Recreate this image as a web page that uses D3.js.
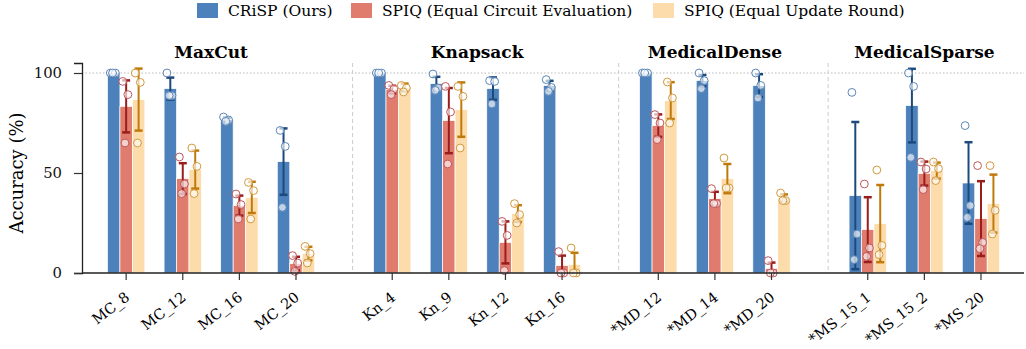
<!DOCTYPE html>
<html>
<head>
<meta charset="utf-8">
<script src="https://cdn.jsdelivr.net/npm/d3@7"></script>
<style>
  body { margin: 0; background: #fff; }
  svg { display: block; font-family: "DejaVu Serif", serif; }
</style>
</head>
<body>
<script>
// tasks on the x axis, in plotting order
var categories = ["MC_8", "MC_12", "MC_16", "MC_20",
                  "Kn_4", "Kn_9", "Kn_12", "Kn_16",
                  "*MD_12", "*MD_14", "*MD_20",
                  "*MS_15_1", "*MS_15_2", "*MS_20"];
var groupNames = ["MaxCut", "Knapsack", "MedicalDense", "MedicalSparse"];
var groupSizes = [4, 4, 3, 3];
var seriesNames = ["CRiSP (Ours)", "SPIQ (Equal Circuit Evaluation)", "SPIQ (Equal Update Round)"];

// mean accuracy (%)
var crispMean = [100, 92.2, 76.7, 55.7, 100, 94.7, 92.2, 93.7, 100, 96.2, 93.7, 38.7, 83.7, 45.0];
var evalMean  = [83.3, 47.2, 33.7, 4.7, 91.7, 76.2, 15.3, 3.7, 73.7, 37.2, 2.2, 21.7, 49.7, 27.2];
var roundMean = [86.7, 51.7, 37.8, 9.7, 92.8, 81.7, 29.7, 4.2, 86.2, 47.2, 37.5, 24.7, 51.2, 34.7];

// std (error bar half length)
var crispErr = [0, 5.5, 1.0, 16.6, 0, 3.4, 5.6, 2.4, 0, 2.8, 5.7, 36.8, 18.4, 20.4];
var evalErr  = [13.0, 7.7, 5.0, 3.4, 1.9, 16.3, 10.5, 5.0, 5.6, 3.4, 3.0, 16.2, 6.0, 18.7];
var roundErr = [15.5, 9.5, 7.8, 3.4, 1.9, 13.6, 4.2, 5.9, 9.2, 7.3, 1.8, 19.3, 4.0, 14.5];

// individual runs
var crispRuns = [[100, 100, 100], [100, 88.7, 88.7], [78, 76.5, 75.8], [71.3, 63.3, 32.8],
                 [100, 100, 100], [99.5, 92.5, 91.3], [96.2, 95.8, 84.5], [96.7, 92.8, 90.8],
                 [100, 100, 100], [100, 96.2, 92.2], [100, 93.8, 87.5],
                 [90.3, 19.5, 6.7], [100, 93.3, 57.8], [73.7, 33.7, 27.8]];
var evalRuns  = [[95.8, 89.2, 65], [58, 44.5, 39.7], [39.5, 34.2, 27], [8.7, 5, 0.8],
                 [93.8, 92, 89.2], [93.3, 80.5, 54.5], [25.8, 18.8, 1.2], [10.7, 0, 0],
                 [79.2, 75, 66.7], [42.2, 34.7, 34.7], [6.2, 0, 0],
                 [44.5, 12.5, 8.3], [55.5, 52, 41.7], [53.7, 15.3, 12.2]];
var roundRuns = [[100, 95.3, 65], [62.5, 53.3, 39.7], [45.3, 41.2, 27], [13.3, 9.7, 5],
                 [93.8, 92.5, 90.5], [93.3, 88.3, 62.5], [34.7, 29.2, 25], [12.5, 0, 0],
                 [95.5, 87.5, 75], [57.5, 42.5, 42.5], [40, 36.2, 36.2],
                 [51.5, 13.8, 9.2], [55.5, 52.2, 46.2], [53.7, 31.3, 19.5]];

var yTicks = [0, 50, 100];

var barColors = ["#4d81bc", "#e07c6e", "#fddcab"];
var errColors = ["#1c4a7c", "#9a1d1d", "#c07a0c"];
var dotColors = ["#5b86b8", "#c0565a", "#d19a3c"];

var width = 1026, height = 349;
var svg = d3.select("body").append("svg")
    .attr("width", width)
    .attr("height", height);

// x position of each task: groups are separated by an extra gap
var gap = 0.7;
var xpos = [];
var pos = 0;
groupSizes.forEach(function (n) {
    for (var k = 0; k < n; k++) { xpos.push(pos); pos += 1; }
    pos += gap;
});

var x = d3.scaleLinear().domain([-0.78, 15.86]).range([82, 1024]);
var y = d3.scaleLinear().domain([0, 105]).range([273, 63]);

var bw = 0.22;
var offs = [-bw, 0, bw];
var jitter = [-0.06, 0.03, -0.02];

svg.append("defs").append("clipPath").attr("id", "plot")
    .append("rect").attr("x", 82).attr("y", 55).attr("width", 944).attr("height", 218);

// reference line at 100
svg.append("line")
    .attr("x1", 82).attr("x2", 1024)
    .attr("y1", y(100)).attr("y2", y(100))
    .attr("stroke", "#bbbbbb").attr("stroke-width", 1)
    .attr("stroke-dasharray", "1.5,2");

// group separators and titles
var start = 0;
groupSizes.forEach(function (n, g) {
    var first = xpos[start], last = xpos[start + n - 1];
    if (g > 0) {
        svg.append("line")
            .attr("x1", x(first - gap)).attr("x2", x(first - gap))
            .attr("y1", y(105)).attr("y2", y(0))
            .attr("stroke", "#cccccc").attr("stroke-width", 1)
            .attr("stroke-dasharray", "4,3");
    }
    svg.append("text")
        .attr("x", x((first + last) / 2)).attr("y", 58)
        .attr("text-anchor", "middle")
        .attr("font-size", 17).attr("font-weight", "bold")
        .text(groupNames[g]);
    start += n;
});

var means = [crispMean, evalMean, roundMean];
var errs = [crispErr, evalErr, roundErr];
var runs = [crispRuns, evalRuns, roundRuns];

var plot = svg.append("g").attr("clip-path", "url(#plot)");

// bars
means.forEach(function (m, s) {
    plot.append("g").selectAll("rect")
        .data(m)
        .enter()
        .append("rect")
        .attr("x", function (d, i) { return x(xpos[i] + offs[s] - bw / 2); })
        .attr("width", x(bw) - x(0))
        .attr("y", function (d) { return y(d); })
        .attr("height", function (d) { return y(0) - y(d); })
        .attr("fill", barColors[s])
        .attr("stroke", "#fff").attr("stroke-width", 0.7);
});

// error bars
var cap = 4;
means.forEach(function (m, s) {
    var g = plot.append("g").attr("stroke", errColors[s]);
    m.forEach(function (d, i) {
        var e = errs[s][i];
        if (e <= 0) return;
        var cx = x(xpos[i] + offs[s]);
        g.append("line").attr("x1", cx).attr("x2", cx)
            .attr("y1", y(d - e)).attr("y2", y(d + e)).attr("stroke-width", 2);
        [d - e, d + e].forEach(function (v) {
            g.append("line").attr("x1", cx - cap).attr("x2", cx + cap)
                .attr("y1", y(v)).attr("y2", y(v)).attr("stroke-width", 2.5);
        });
    });
});

// individual runs
runs.forEach(function (r, s) {
    var g = svg.append("g");
    r.forEach(function (vals, i) {
        vals.forEach(function (v, k) {
            g.append("circle")
                .attr("cx", x(xpos[i] + offs[s] + jitter[k]))
                .attr("cy", y(v))
                .attr("r", 3.9)
                .attr("fill", "#ffffff").attr("fill-opacity", 0.65)
                .attr("stroke", dotColors[s]).attr("stroke-width", 1);
        });
    });
});

// axes
var xAxis = svg.append("g").attr("transform", "translate(0," + y(0) + ")");
xAxis.append("line").attr("x1", 82).attr("x2", 1024)
    .attr("stroke", "#222").attr("stroke-width", 1.3);
categories.forEach(function (c, i) {
    var cx = x(xpos[i]);
    xAxis.append("line").attr("x1", cx).attr("x2", cx).attr("y1", 0).attr("y2", 7)
        .attr("stroke", "#333").attr("stroke-width", 1.2);
    xAxis.append("text")
        .attr("transform", "translate(" + (cx - 2) + ",18) rotate(-38)")
        .attr("text-anchor", "end")
        .attr("dy", "0.7em")
        .attr("font-size", 14.5)
        .text(c);
});

var yAxis = svg.append("g").attr("transform", "translate(82,0)")
    .call(d3.axisLeft(y).tickValues(yTicks).tickSize(8).tickPadding(12));
yAxis.select(".domain").attr("stroke", "#222").attr("stroke-width", 1.3);
yAxis.selectAll(".tick line").attr("stroke", "#333").attr("stroke-width", 1.2);
yAxis.selectAll(".tick text")
    .attr("font-family", "DejaVu Serif, serif")
    .attr("font-size", 14.8).attr("fill", "#111");

svg.append("text")
    .attr("transform", "translate(17," + y(50) + ") rotate(-90)")
    .attr("text-anchor", "middle")
    .attr("dy", "0.35em")
    .attr("font-size", 18)
    .text("Accuracy (%)");

// legend
var legendX = [197, 351, 653];
seriesNames.forEach(function (name, s) {
    svg.append("rect")
        .attr("x", legendX[s]).attr("y", 3)
        .attr("width", 21).attr("height", 15)
        .attr("fill", barColors[s]);
    svg.append("text")
        .attr("x", legendX[s] + 31).attr("y", 16)
        .attr("font-size", 15.5)
        .text(name);
});
</script>
</body>
</html>
